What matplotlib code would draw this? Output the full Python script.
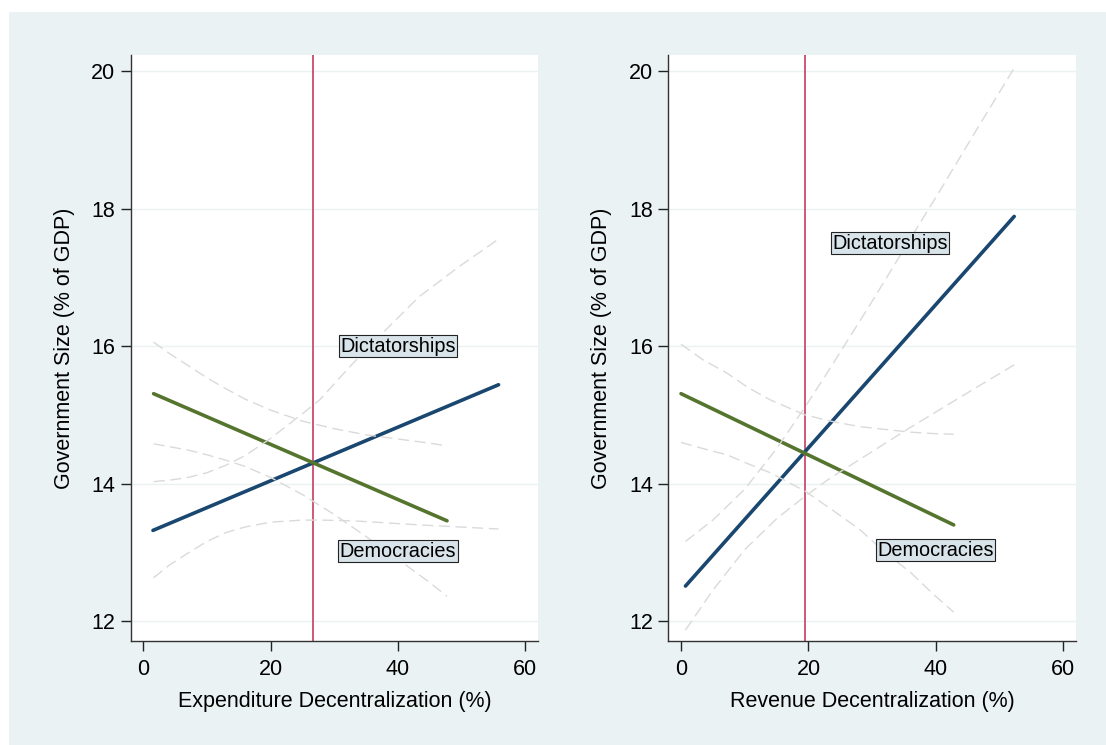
import matplotlib
matplotlib.use("Agg")
import matplotlib.pyplot as plt
from matplotlib.patches import Rectangle

plt.rcParams['font.family'] = ['Liberation Sans', 'DejaVu Sans']

# ---------------- data: left panel (expenditure decentralization) ----------------
exp_dict_x = [1.5, 55.8]
exp_dict_y = [13.32, 15.44]
exp_dem_x = [1.6, 47.7]
exp_dem_y = [15.31, 13.46]

exp_dict_ci_x = [1.6, 4.0, 7.0, 10.0, 13.0, 16.0, 20.0, 25.0, 27.7, 32.9, 38.1, 43.3, 49.6, 55.8]
exp_dict_hi = [14.03, 14.05, 14.09, 14.16, 14.27, 14.41, 14.66, 15.02, 15.22, 15.75, 16.24, 16.72, 17.16, 17.56]
exp_dict_lo = [12.63, 12.81, 12.99, 13.16, 13.29, 13.37, 13.44, 13.47, 13.47, 13.46, 13.43, 13.40, 13.37, 13.34]

exp_dem_ci_x = [1.6, 4.0, 7.0, 10.0, 13.0, 16.0, 20.0, 25.0, 30.0, 35.0, 40.0, 45.0, 47.7]
exp_dem_hi = [16.06, 15.90, 15.72, 15.54, 15.38, 15.23, 15.07, 14.91, 14.80, 14.71, 14.65, 14.59, 14.55]
exp_dem_lo = [14.58, 14.54, 14.49, 14.42, 14.34, 14.25, 14.09, 13.84, 13.55, 13.23, 12.90, 12.56, 12.36]

exp_vline = 26.6

# ---------------- data: right panel (revenue decentralization) ----------------
rev_dict_x = [0.7, 52.3]
rev_dict_y = [12.51, 17.89]
rev_dem_x = [0.0, 42.8]
rev_dem_y = [15.31, 13.40]

rev_dict_ci_x = [0.7, 5.0, 10.0, 15.0, 19.5, 23.4, 29.7, 35.5, 41.0, 46.9, 52.3]
rev_dict_hi = [13.16, 13.47, 13.92, 14.51, 15.12, 15.68, 16.61, 17.49, 18.32, 19.23, 20.05]
rev_dict_lo = [11.87, 12.45, 13.04, 13.49, 13.82, 14.08, 14.45, 14.79, 15.10, 15.43, 15.73]

rev_dem_ci_x = [0.0, 3.5, 7.2, 10.5, 14.0, 19.5, 24.0, 28.1, 32.0, 36.0, 39.5, 42.8]
rev_dem_hi = [16.03, 15.80, 15.61, 15.40, 15.22, 15.00, 14.90, 14.83, 14.79, 14.75, 14.73, 14.72]
rev_dem_lo = [14.60, 14.51, 14.42, 14.29, 14.16, 13.89, 13.60, 13.33, 13.00, 12.71, 12.40, 12.13]

rev_vline = 19.5

# labels (text, x, y)
exp_labels = [("Dictatorships", 40.0, 16.0), ("Democracies", 40.0, 13.02)]
rev_labels = [("Dictatorships", 32.8, 17.5), ("Democracies", 39.9, 13.03)]

x_ticks = [0, 20, 40, 60]
y_ticks = [12, 14, 16, 18, 20]
y_title = "Government Size (% of GDP)"
x_titles = ["Expenditure Decentralization (%)", "Revenue Decentralization (%)"]

# ---------------- styling ----------------
BG = "#EAF2F3"
BLUE = "#1A476F"
GREEN = "#55752F"
RED = "#CC4A6C"
CI = "#DADADA"

W, H = 1106, 745
fig = plt.figure(figsize=(W / 100, H / 100), dpi=100, facecolor="white")
bg_ax = fig.add_axes([0, 0, 1, 1], zorder=-10)
bg_ax.set_axis_off()
bg_ax.set_xlim(0, W)
bg_ax.set_ylim(H, 0)
bg_ax.add_patch(Rectangle((9, 12), W - 9, H - 12, facecolor=BG, edgecolor="none"))

ax_l = fig.add_axes([130.7 / W, (H - 641) / H, (538 - 130.7) / W, (641 - 55) / H])
ax_r = fig.add_axes([668.3 / W, (H - 641) / H, (1076 - 668.3) / W, (641 - 55) / H])

panels = [
    (ax_l, exp_dict_x, exp_dict_y, exp_dem_x, exp_dem_y,
     exp_dict_ci_x, exp_dict_hi, exp_dict_lo,
     exp_dem_ci_x, exp_dem_hi, exp_dem_lo, exp_vline, exp_labels, x_titles[0]),
    (ax_r, rev_dict_x, rev_dict_y, rev_dem_x, rev_dem_y,
     rev_dict_ci_x, rev_dict_hi, rev_dict_lo,
     rev_dem_ci_x, rev_dem_hi, rev_dem_lo, rev_vline, rev_labels, x_titles[1]),
]

for (ax, dx, dy, mx, my, dcx, dhi, dlo, mcx, mhi, mlo, vl, labels, xt) in panels:
    ax.set_facecolor("white")
    ax.set_xlim(-2, 62)
    ax.set_ylim(11.71, 20.24)
    for yv in y_ticks:
        ax.axhline(yv, color=BG, lw=1.0, zorder=0.5)
    ax.axvline(vl, color=RED, lw=1.3, zorder=1)
    ax.plot(dx, dy, color=BLUE, lw=2.6, solid_capstyle="round", zorder=2)
    ax.plot(mx, my, color=GREEN, lw=2.6, solid_capstyle="round", zorder=2)
    for cx, cy in [(dcx, dhi), (dcx, dlo), (mcx, mhi), (mcx, mlo)]:
        ax.plot(cx, cy, color=CI, lw=1.0, dashes=(8, 4), zorder=3)
    for txt, tx, ty in labels:
        ax.text(tx, ty, txt, fontsize=14.3, ha="center", va="center", zorder=4,
                bbox=dict(boxstyle="square,pad=0.07", facecolor="#D9E4EA",
                          edgecolor="#222222", linewidth=0.8))
    ax.set_xticks(x_ticks)
    ax.set_yticks(y_ticks)
    ax.set_xticklabels([str(v) for v in x_ticks])
    ax.set_yticklabels([str(v) for v in y_ticks])
    ax.tick_params(axis="both", direction="out", length=7, width=1.0,
                   colors="#222222", labelsize=15.5, labelcolor="black")
    ax.tick_params(axis="x", pad=6)
    ax.tick_params(axis="y", pad=4)
    for s in ["top", "right"]:
        ax.spines[s].set_visible(False)
    for s in ["left", "bottom"]:
        ax.spines[s].set_color("#333333")
        ax.spines[s].set_linewidth(1.0)
    ax.set_xlabel(xt, fontsize=15.5, labelpad=8)
    ax.set_ylabel(y_title, fontsize=15.5, labelpad=12)

fig.savefig("out.png", dpi=100, facecolor=fig.get_facecolor())
